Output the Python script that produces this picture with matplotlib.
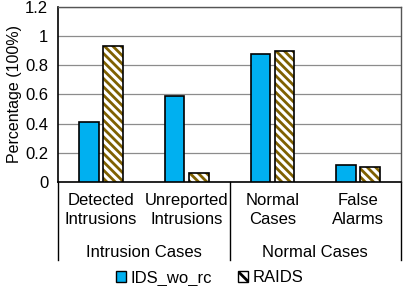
import numpy as np
import matplotlib.pyplot as plt
from matplotlib.patches import Patch

plt.rcParams['font.family'] = ['Liberation Sans', 'DejaVu Sans']
plt.rcParams['hatch.linewidth'] = 2.0

# Data
categories = ['Detected\nIntrusions', 'Unreported\nIntrusions', 'Normal\nCases', 'False\nAlarms']
groups = ['Intrusion Cases', 'Normal Cases']
ids_wo_rc = [0.41, 0.59, 0.88, 0.12]
raids = [0.93, 0.065, 0.90, 0.10]

blue = '#00B0F0'
brown = '#7F6000'
plt.rcParams['hatch.color'] = brown

fig = plt.figure(figsize=(4.03, 2.86), dpi=100)
ax = fig.add_axes([0.144, 0.3636, 0.851, 0.612])

x = np.arange(len(categories))
w = 0.23
gap = 0.05
ax.bar(x - (w + gap) / 2, ids_wo_rc, w, color=blue, edgecolor='black', linewidth=1.2, zorder=3)
ax.bar(x + (w + gap) / 2, raids, w, color='white', edgecolor=brown, hatch='\\\\\\\\', linewidth=0, zorder=3)
ax.bar(x + (w + gap) / 2, raids, w, fill=False, edgecolor='black', linewidth=1.2, zorder=4)

ax.set_xlim(-0.5, 3.5)
ax.set_ylim(0, 1.2)
ax.set_yticks([0, 0.2, 0.4, 0.6, 0.8, 1.0, 1.2])
ax.set_yticklabels(['0', '0.2', '0.4', '0.6', '0.8', '1', '1.2'])
ax.yaxis.grid(True, color='#8c8c8c', linewidth=0.9, zorder=0)
ax.set_axisbelow(True)
ax.tick_params(axis='y', length=0, labelsize=12, pad=7)
ax.set_xticks(x)
ax.set_xticklabels(categories, fontsize=12, linespacing=1.3)
ax.tick_params(axis='x', length=0, pad=8)
ax.set_ylabel('Percentage (100%)', fontsize=11.5, labelpad=2)

for s in ['top', 'right']:
    ax.spines[s].set_color('#555555')
    ax.spines[s].set_linewidth(1.0)
for s in ['left', 'bottom']:
    ax.spines[s].set_color('black')
    ax.spines[s].set_linewidth(1.2)

# group separators and labels
tr = ax.get_xaxis_transform()
for xs in [-0.5, 1.5, 3.5]:
    ax.plot([xs, xs], [0, -0.446], transform=tr, color='black', linewidth=1.0, clip_on=False)
ax.text(0.5, -0.40, groups[0], transform=tr, ha='center', va='center', fontsize=12)
ax.text(2.5, -0.40, groups[1], transform=tr, ha='center', va='center', fontsize=12)

handles = [Patch(facecolor=blue, edgecolor='black', linewidth=1.0),
           Patch(facecolor='white', edgecolor='black', linewidth=1.0, hatch='\\')]
fig.legend(handles, ['IDS_wo_rc', 'RAIDS'], loc='center', bbox_to_anchor=(0.52, 0.028),
           ncol=2, frameon=False, fontsize=12, handlelength=0.6, handleheight=0.6,
           handletextpad=0.25, columnspacing=1.6, borderpad=0)

fig.savefig('out.png', dpi=100)
